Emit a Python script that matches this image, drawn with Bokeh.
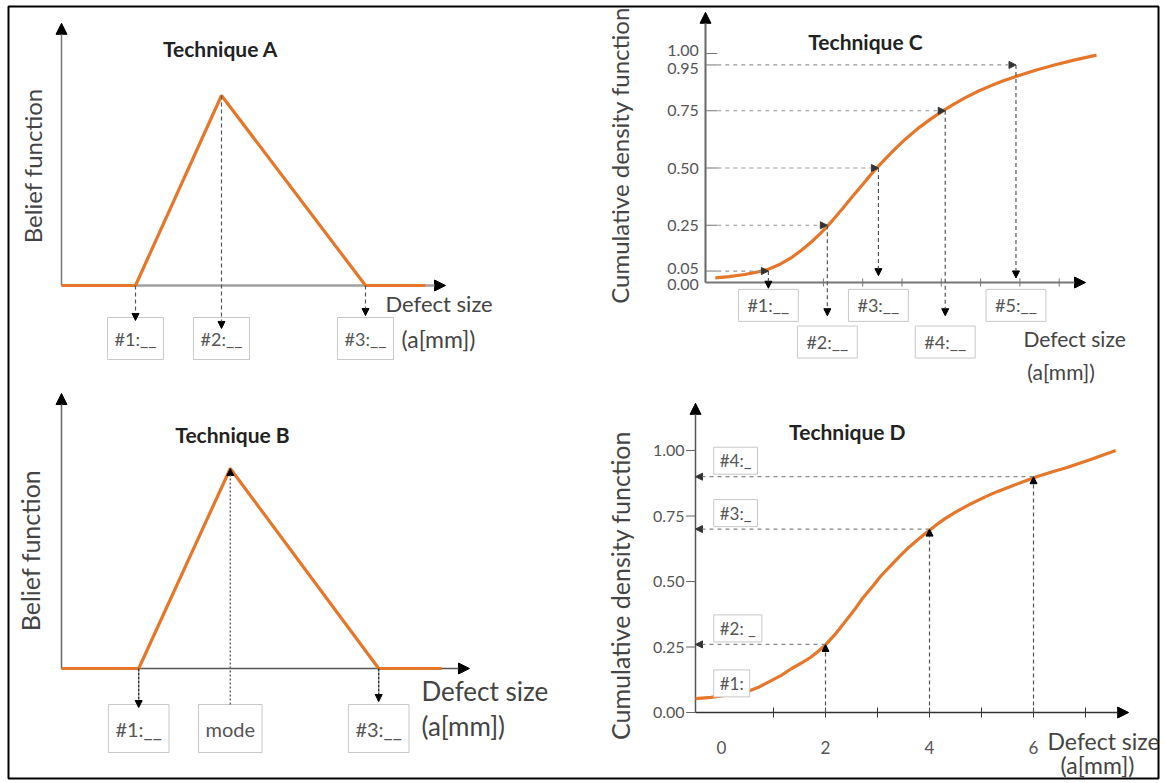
from math import pi
from bokeh.plotting import figure
from bokeh.models import Range1d, Arrow, NormalHead, ColumnDataSource
from bokeh.embed import file_html
from bokeh.resources import INLINE
from bokeh.core.properties import value

# ---------------- data ----------------
# Technique A: triangular belief function over defect size
A_size = [0.0, 1.85, 4.0, 7.6, 9.1]
A_belief = [0.0, 0.0, 1.0, 0.0, 0.0]
A_points = [1.85, 4.0, 7.6]
A_point_labels = ["#1:__", "#2:__", "#3:__"]

# Technique B: triangular belief function with given mode
B_size = [0.0, 1.93, 4.22, 7.93, 9.5]
B_belief = [0.0, 0.0, 1.0, 0.0, 0.0]
B_points = [1.93, 4.22, 7.93]
B_point_labels = ["#1:__", "mode", "#3:__"]

# Technique C: CDF with quantiles asked at fixed probabilities
C_size = [0.25, 0.6, 1.0, 1.3, 1.6, 1.9, 2.2, 2.45, 2.7, 2.9, 3.1, 3.3, 3.5, 3.75, 4.0,
          4.2, 4.4, 4.65, 4.85, 5.1, 5.4, 5.7, 6.0, 6.3, 6.6, 6.95, 7.3, 7.6, 7.9, 8.4,
          8.9, 9.4, 9.95]
C_cdf = [0.02, 0.026, 0.035, 0.045, 0.058, 0.08, 0.11, 0.142, 0.178, 0.21, 0.245, 0.285,
         0.325, 0.378, 0.428, 0.47, 0.508, 0.553, 0.588, 0.628, 0.672, 0.71, 0.745, 0.777,
         0.806, 0.836, 0.862, 0.882, 0.9, 0.927, 0.951, 0.972, 0.993]
C_levels = [0.05, 0.25, 0.50, 0.75, 0.95]
C_points = [1.6, 3.1, 4.4, 6.1, 7.9]
C_point_labels = ["#1:__", "#2:__", "#3:__", "#4:__", "#5:__"]
C_yticks = [0.0, 0.05, 0.25, 0.50, 0.75, 0.95, 1.00]
C_ytick_labels = ["0.00", "0.05", "0.25", "0.50", "0.75", "0.95", "1.00"]
C_xticks = [3, 4, 5, 6, 7, 8, 9]

# Technique D: CDF with probabilities asked at fixed sizes
D_size = [-0.5, -0.2, 0.06, 0.3, 0.5, 0.7, 0.92, 1.15, 1.35, 1.55, 1.71, 1.85, 2.0, 2.18,
          2.35, 2.55, 2.71, 2.9, 3.06, 3.25, 3.42, 3.6, 3.79, 3.95, 4.13, 4.3, 4.5, 4.8,
          5.06, 5.3, 5.56, 5.8, 6.06, 6.35, 6.63, 7.1, 7.58]
D_cdf = [0.053, 0.058, 0.065, 0.072, 0.08, 0.095, 0.118, 0.142, 0.168, 0.19, 0.21, 0.232,
         0.258, 0.297, 0.34, 0.39, 0.435, 0.48, 0.52, 0.56, 0.595, 0.63, 0.662, 0.688,
         0.716, 0.74, 0.765, 0.797, 0.822, 0.843, 0.863, 0.881, 0.90, 0.918, 0.934, 0.966,
         1.0]
D_levels = [0.05, 0.26, 0.70, 0.90]
D_points = [2, 4, 6]
D_point_labels = ["#1:", "#2: _", "#3:_", "#4:_"]
D_yticks = [0.0, 0.25, 0.50, 0.75, 1.00]
D_ytick_labels = ["0.00", "0.25", "0.50", "0.75", "1.00"]
D_xticks = [1, 2, 3, 4, 5, 6, 7]
D_xtick_labels_at = [0, 2, 4, 6]

# ---------------- layout ----------------
W, H = 1166, 783
BL, BR, BT, BB = 8, 8, 6, 5
ORANGE = "#E5772A"
FONT = "Lato"

p = figure(width=W, height=H, output_backend="svg", toolbar_location=None,
           x_axis_location=None, y_axis_location=None,
           x_range=Range1d(0, 1), y_range=Range1d(0, 1),
           min_border_left=BL, min_border_right=BR, min_border_top=BT, min_border_bottom=BB)
p.outline_line_color = "black"
p.outline_line_width = 2
p.background_fill_color = "white"
p.border_fill_color = "white"
p.xgrid.visible = False
p.ygrid.visible = False

# panel placement: page px of x=0, px per x unit, page px of y=0, px per y unit
PANEL = {"A": (61, 40.0, 285, 190.0),
         "B": (61, 40.0, 668, 200.0),
         "C": (705, 39.3, 282, 229.0),
         "D": (721, 52.0, 712, 262.0)}
xr, yr = {}, {}
for k, (x0, kx, y0, ky) in PANEL.items():
    xr[k] = Range1d((BL - x0) / kx, (W - BR - x0) / kx)
    yr[k] = Range1d((y0 - (H - BB)) / ky, (y0 - BT) / ky)
p.extra_x_ranges = xr
p.extra_y_ranges = yr


def R(panel):
    return dict(x_range_name=panel, y_range_name=panel)


def txt(panel, x, y, text, size, color="#444444", bold=False, align="left",
        baseline="middle", angle=0.0):
    p.text(x=[x], y=[y], text=[text], angle=angle, text_font=value(FONT),
           text_font_size=f"{size}px", text_color=color,
           text_font_style="bold" if bold else "normal",
           text_align=align, text_baseline=baseline, **R(panel))


def arrows(panel, x0, y0, x1, y1, color, width, dash, head, head_color="black", level="overlay"):
    src = ColumnDataSource(dict(x0=list(x0), y0=list(y0), x1=list(x1), y1=list(y1)))
    p.add_layout(Arrow(source=src, x_start="x0", y_start="y0", x_end="x1", y_end="y1",
                       line_color=color, line_width=width, line_dash=dash, level=level,
                       end=NormalHead(size=head, fill_color=head_color,
                                      line_color=head_color, line_width=1),
                       **R(panel)))


def boxes(panel, xs, ys, labels, size, padx, pady, align="center", y_offset=0):
    p.text(x=list(xs), y=list(ys), text=list(labels), text_font=value(FONT),
           text_font_size=f"{size}px", text_color="#555555", text_align=align,
           text_baseline="middle", y_offset=y_offset,
           background_fill_color="white", border_line_color="#c8c8c8",
           border_line_width=1, padding=dict(x=padx, y=pady), **R(panel))


TITLE = 21

# ================= Technique A =================
arrows("A", [0], [0], [0], [1.38], "#777777", 1.5, "solid", 11, level="underlay")
arrows("A", [0], [0], [9.6], [0], "#a0a0a0", 2.5, "solid", 11, level="underlay")
p.line(A_size, A_belief, line_color=ORANGE, line_width=3.2, **R("A"))
arrows("A", A_points, [0, 1, 0], A_points, [-0.184, -0.226, -0.158], "#555555", 1.2, "4 3", 7)
boxes("A", A_points, [-0.279] * 3, A_point_labels, 18, 7, 10)
txt("A", 3.975, 1.247, "Technique A", TITLE, "#222222", bold=True, align="center")
txt("A", -0.72, 0.63, "Belief function", 24, "#444444", align="center", angle=pi / 2)
txt("A", 8.1, -0.095, "Defect size", 22)
txt("A", 8.5, -0.284, "(a[mm])", 23)

# ================= Technique B =================
arrows("B", [0], [0], [0], [1.375], "#666666", 1.5, "solid", 11, level="underlay")
arrows("B", [0], [0], [10.2], [0], "#555555", 1.5, "solid", 11, level="underlay")
p.line(B_size, B_belief, line_color=ORANGE, line_width=3.2, **R("B"))
arrows("B", [B_points[0], B_points[2]], [0, 0], [B_points[0], B_points[2]], [-0.195, -0.165],
       "#333333", 1.5, "3 1", 7)
arrows("B", [B_points[1]], [-0.18], [B_points[1]], [1.0], "#666666", 1.5, "2 2", 7)
boxes("B", B_points, [-0.30] * 3, B_point_labels, 20, 7, 12)
txt("B", 4.275, 1.17, "Technique B", TITLE, "#222222", bold=True, align="center")
txt("B", -0.8, 0.59, "Belief function", 25, "#444444", align="center", angle=pi / 2)
txt("B", 9.0, -0.11, "Defect size", 26)
txt("B", 9.0, -0.285, "(a[mm])", 26)

# ================= Technique C =================
arrows("C", [0], [0], [0], [1.18], "#666666", 2, "solid", 11, level="underlay")
arrows("C", [0], [0], [9.67], [0], "#777777", 2, "solid", 11, level="underlay")
p.segment(x0=[0] * len(C_yticks), y0=C_yticks, x1=[0.3] * len(C_yticks), y1=C_yticks,
          line_color="#777777", line_width=1, **R("C"))
p.segment(x0=C_xticks, y0=[-0.018] * len(C_xticks), x1=C_xticks, y1=[0.018] * len(C_xticks),
          line_color="#777777", line_width=1, **R("C"))
p.text(x=[-0.17] * len(C_yticks), y=C_yticks, text=C_ytick_labels, text_font=value(FONT),
       text_font_size="16px", text_color="#555555", text_align="right",
       text_baseline="middle", y_offset=[2, -3, 0, 0, 0, 4, -3], **R("C"))
p.line(C_size, C_cdf, line_color=ORANGE, line_width=3.2, **R("C"))
arrows("C", [0.3] * 5, C_levels, C_points, C_levels, "#9a9a9a", 1.2, "4 4", 7, head_color="#333333")
arrows("C", C_points, C_levels, C_points, [-0.025, -0.145, 0.03, -0.145, 0.02],
       "#555555", 1.2, "4 3", 7)
boxes("C", C_points, [-0.10, -0.26, -0.10, -0.26, -0.10], C_point_labels, 18, 9, 5)
txt("C", 4.07, 1.052, "Technique C", TITLE, "#222222", bold=True, align="center")
txt("C", -2.2, 0.555, "Cumulative density function", 24, "#444444", align="center", angle=pi / 2)
txt("C", 8.09, -0.245, "Defect size", 21)
txt("C", 8.19, -0.389, "(a[mm])", 21)

# ================= Technique D =================
arrows("D", [-0.5], [0], [-0.5], [1.18], "#555555", 1.5, "solid", 11, level="underlay")
arrows("D", [-0.5], [0], [7.83], [0], "#333333", 1.5, "solid", 11, level="underlay")
p.segment(x0=[-0.68] * len(D_yticks), y0=D_yticks, x1=[-0.5] * len(D_yticks), y1=D_yticks,
          line_color="#666666", line_width=1, **R("D"))
p.segment(x0=D_xticks, y0=[-0.019] * len(D_xticks), x1=D_xticks, y1=[0.019] * len(D_xticks),
          line_color="#333333", line_width=1, **R("D"))
p.text(x=[-0.71] * len(D_yticks), y=D_yticks, text=D_ytick_labels, text_font=value(FONT),
       text_font_size="16px", text_color="#555555", text_align="right",
       text_baseline="middle", **R("D"))
p.text(x=D_xtick_labels_at, y=[-0.134] * len(D_xtick_labels_at),
       text=[str(v) for v in D_xtick_labels_at], text_font=value(FONT),
       text_font_size="17px", text_color="#555555", text_align="center",
       text_baseline="middle", **R("D"))
p.line(D_size, D_cdf, line_color=ORANGE, line_width=3.2, **R("D"))
boxes("D", [-0.15] * 4, D_levels, D_point_labels, 17, 6, 3, align="left", y_offset=-16)
arrows("D", D_points, [0, 0, 0], D_points, D_levels[1:], "#555555", 1.2, "4 3", 7)
arrows("D", D_points, D_levels[1:], [-0.5] * 3, D_levels[1:], "#888888", 1.2, "4 4", 7,
       head_color="#333333")
txt("D", 2.42, 1.072, "Technique D", TITLE, "#222222", bold=True, align="center")
txt("D", -1.95, 0.485, "Cumulative density function", 25, "#444444", align="center", angle=pi / 2)
txt("D", 6.27, -0.107, "Defect size", 23)
txt("D", 6.52, -0.202, "(a[mm])", 23)

open("out.html", "w").write(file_html(p, INLINE))
